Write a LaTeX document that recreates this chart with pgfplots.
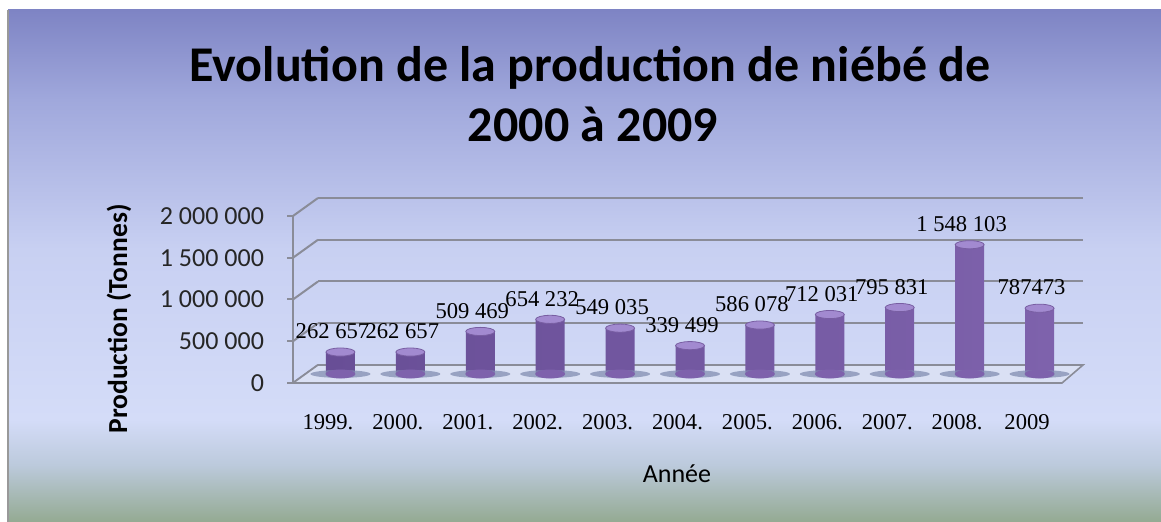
\documentclass[border=0pt]{standalone}
\usepackage{pgfplots}
\pgfplotsset{compat=1.18}
\usepackage{fontspec}
\setmainfont{Carlito}
\newfontfamily\numfont{Liberation Serif}

\definecolor{bgtop}{RGB}{126,132,196}
\definecolor{bgA}{RGB}{160,168,220}
\definecolor{bgB}{RGB}{200,208,242}
\definecolor{bgC}{RGB}{212,220,248}
\definecolor{bgD}{RGB}{188,202,220}
\definecolor{bgbot}{RGB}{148,170,146}
\definecolor{gridc}{RGB}{138,140,152}
\definecolor{floorc}{RGB}{218,224,244}
\definecolor{shadowc}{RGB}{130,142,178}
\definecolor{barD}{RGB}{104,78,150}
\definecolor{barL}{RGB}{182,158,222}
\definecolor{barR}{RGB}{126,98,172}
\definecolor{barTop}{RGB}{162,138,208}
\definecolor{barTopE}{RGB}{120,94,162}

\pgfdeclareverticalshading{chartbg}{100bp}{color(0bp)=(bgbot); color(25bp)=(bgbot); color(30.6bp)=(bgD); color(35bp)=(bgC); color(51.6bp)=(bgB); color(66.2bp)=(bgA); color(75bp)=(bgtop); color(100bp)=(bgtop)}

\begin{document}
\begin{tikzpicture}
\useasboundingbox (0,0) rectangle (580.5pt,261pt);
\shade[shading=chartbg] (4pt,0) rectangle (580.5pt,256pt);
\draw[gray!80, line width=1pt] (4pt,0) -- (4pt,256pt);

% title
\node[font=\bfseries\fontsize{25}{30}\selectfont, anchor=base] at (295pt,220pt) {Evolution de la production de niébé de};
\node[font=\bfseries\fontsize{25}{30}\selectfont, anchor=base] at (296.5pt,190pt) {2000 à 2009};
% axis titles
\node[font=\bfseries\fontsize{13.75}{16}\selectfont, rotate=90, anchor=base] at (63.5pt,101.5pt) {Production (Tonnes)};
\node[font=\fontsize{13}{15}\selectfont, anchor=base] at (338.5pt,19.5pt) {Année};

% back wall and floor
\begin{axis}[at={(159pt,78.5pt)}, anchor=south west, scale only axis,
  width=382.5pt, height=83.5pt, xmin=0, xmax=1, ymin=0, ymax=2000000,
  axis line style={draw=none}, xtick=\empty, scaled y ticks=false,
  ytick={0,500000,1000000,1500000,2000000}, yticklabels={},
  major tick length=0pt, ymajorgrids,
  grid style={gridc, line width=1pt}, clip=false]
\addplot[draw=none] coordinates {(0,0) (1,0)};
\pgfplotsinvokeforeach{0,500000,1000000,1500000,2000000}{
  \draw[gridc, line width=1pt] (axis cs:0,#1) -- ++(-12.5pt,-9pt);
}
\filldraw[fill=floorc, draw=gridc, line width=0.8pt]
  (axis cs:0,0) -- (axis cs:1,0) -- ([shift={(-10.5pt,-9pt)}]axis cs:1,0)
  -- ([shift={(-12.5pt,-9pt)}]axis cs:0,0) -- cycle;
\end{axis}

% bars (middle depth)
\begin{axis}[at={(152.75pt,74pt)}, anchor=south west, scale only axis,
  width=384.5pt, height=83.5pt, xmin=-0.5, xmax=10.5, ymin=0, ymax=2000000,
  hide axis, clip=false, scaled y ticks=false]
\addplot[color=shadowc, only marks, mark=*, mark size=15pt,
  mark options={yscale=0.13, fill=shadowc, draw=shadowc, fill opacity=0.75, draw opacity=0}]
  coordinates {(0,0) (1,0) (2,0) (3,0) (4,0) (5,0) (6,0) (7,0) (8,0) (9,0) (10,0)};
\addplot[color=barR, only marks, mark=*, mark size=7.25pt,
  mark options={yscale=0.28, fill=barR, draw=barR}]
  coordinates {(0,0) (1,0) (2,0) (3,0) (4,0) (5,0) (6,0) (7,0) (8,0) (9,0) (10,0)};
\addplot[ybar, bar width=14.5pt, draw=none, left color=barD, middle color=barL, right color=barR]
  coordinates {(0,262657) (1,262657) (2,509469) (3,654232) (4,549035) (5,339499)
               (6,586078) (7,712031) (8,795831) (9,1548103) (10,787473)};
\addplot[color=barTopE, only marks, mark=*, mark size=7.25pt,
  mark options={yscale=0.28, fill=barTop, draw=barTopE, line width=0.4pt},
  point meta=explicit symbolic, nodes near coords,
  nodes near coords style={anchor=south, yshift=3pt, xshift=-4pt, text=black,
     font=\numfont\fontsize{11.3}{13}\selectfont}]
  coordinates {(0,262657) [262 657] (1,262657) [262 657] (2,509469) [509 469]
               (3,654232) [654 232] (4,549035) [549 035] (5,339499) [339 499]
               (6,586078) [586 078] (7,712031) [712 031] (8,795831) [795 831]
               (9,1548103) [1 548 103] (10,787473) [787473]};
\end{axis}

% front frame with ticks
\begin{axis}[at={(146.5pt,69.5pt)}, anchor=south west, scale only axis,
  width=384.5pt, height=83.5pt, xmin=-0.5, xmax=10.5, ymin=0, ymax=2000000,
  scaled y ticks=false,
  axis y line*=left, axis x line*=bottom,
  x axis line style={draw=none}, y axis line style={gridc, line width=1pt, -},
  xtick={0,1,2,3,4,5,6,7,8,9,10},
  xticklabels={1999.,2000.,2001.,2002.,2003.,2004.,2005.,2006.,2007.,2008.,2009},
  xtick style={draw=none},
  ytick={0,500000,1000000,1500000,2000000},
  yticklabels={0,500 000,1 000 000,1 500 000,2 000 000},
  ytick style={gridc, line width=1pt},
  tick align=outside, major tick length=3pt,
  yticklabel style={font=\fontsize{13}{15}\selectfont, text=black!85, xshift=-8pt},
  xticklabel style={font=\numfont\fontsize{11.3}{13}\selectfont, yshift=-9pt},
  clip=false]
\addplot[draw=none] coordinates {(0,0) (10,0)};
\end{axis}
\end{tikzpicture}
\end{document}
